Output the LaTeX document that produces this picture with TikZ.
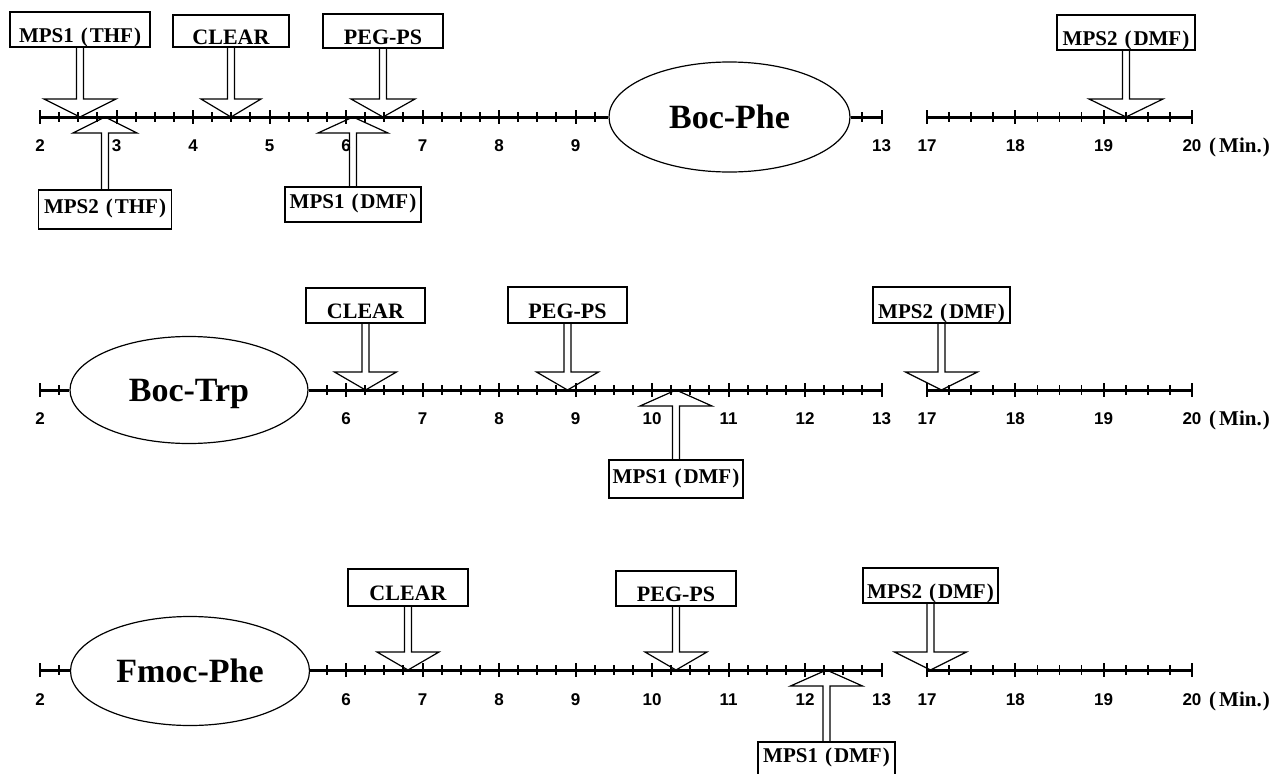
\documentclass[tikz,border=0pt]{standalone}
\usepackage{fontspec}
\setmainfont{Liberation Serif}
\newfontfamily\numfont{Liberation Sans}
\usetikzlibrary{shapes.geometric,calc}
\tikzset{
  axisln/.style={line width=3pt},
  minortick/.style={line width=1.8pt},
  majortick/.style={line width=2pt},
  lbox/.style={draw, line width=1.2pt, fill=white, inner sep=0pt, text depth=0pt,
    font=\fontsize{21}{24}\selectfont\bfseries},
  widebox/.style={lbox, font=\fontsize{22}{24}\selectfont\bfseries},
  boxhi/.style={text height=26pt},
  boxlo/.style={text height=8pt},
  ell/.style={ellipse, draw, line width=1.2pt, fill=white, inner sep=0pt,
    font=\fontsize{34}{38}\selectfont\bfseries, text height=22.5pt, text depth=0pt},
  num/.style={font=\fontsize{17}{19}\selectfont\numfont\bfseries, inner sep=0pt,
    text height=12.2pt, text depth=0pt},
  minl/.style={font=\fontsize{21}{24}\selectfont\bfseries, inner sep=0pt,
    text height=14pt, text depth=0pt, anchor=west},
  blk/.style={draw, line width=1.2pt, line join=miter},
}
\newcommand{\DnArrow}[3][31]{\draw[blk] ($(#2.south)+(-3.5,0)$) -- ($(#3)+(-3.5,-18)$) -- ($(#3)+(-#1,-18)$) -- (#3) -- ($(#3)+(#1,-18)$) -- ($(#3)+(3.5,-18)$) -- ($(#2.south)+(3.5,0)$);}
\newcommand{\UpArrow}[3][35]{\draw[blk] ($(#2.north)+(-3.5,0)$) -- ($(#3)+(-3.5,16)$) -- ($(#3)+(-#1,16)$) -- (#3) -- ($(#3)+(#1,16)$) -- ($(#3)+(3.5,16)$) -- ($(#2.north)+(3.5,0)$);}
\newcommand{\MPS}[2]{MPS#1\hspace{7pt}(\hspace{2pt}#2\hspace{1pt})}
\begin{document}
\begin{tikzpicture}[x=1pt,y=-1pt,
  declare function={xl(\t)=40+(\t-2)*76.5; xr(\t)=927+(\t-17)*88.33;}]
\useasboundingbox (0,0) rectangle (1278,774);
\clip (0,0) rectangle (1278,774);

% ================= axis 1 =================
\node[ell, minimum width=241pt, minimum height=110pt] (e1) at (729.5,117) {Boc-Phe};
\coordinate (a1s) at (40,117);
\coordinate (a1e) at (881.5,117);
\coordinate (r1s) at (927,117);
\coordinate (r1e) at (1192,117);
\draw[axisln] (a1s) -- (e1);
\draw[axisln] (e1) -- (a1e);
\draw[axisln] (r1s) -- (r1e);
\foreach \t in {2,2.25,...,9.3,12.75}{\draw[minortick] ({xl(\t)},112) -- ++(0,10);}
\foreach \t in {2,...,9,13}{\draw[majortick] ({xl(\t)},110) -- ++(0,14);
  \node[num] (l1-\t) at ({xl(\t)},145) {\t};}
\foreach \t in {17,17.25,...,20.1}{\draw[minortick] ({xr(\t)},112) -- ++(0,10);}
\foreach \t in {17,...,20}{\draw[majortick] ({xr(\t)},110) -- ++(0,14);
  \node[num] (r1-\t) at ({xr(\t)},145) {\t};}
\node[minl] (m1) at (1209,145) {(\hspace{3pt}Min.\hspace{1pt})};

\node[lbox, boxhi, minimum width=140pt, minimum height=35pt] (b11) at (80,29.5) {\MPS{1}{THF}};
\coordinate (t11) at (80,117);
\DnArrow[36]{b11}{t11}
\node[widebox, boxhi, minimum width=116pt, minimum height=32pt] (b12) at (231,31) {CLEAR};
\coordinate (t12) at (231,117);
\DnArrow[30]{b12}{t12}
\node[widebox, boxhi, minimum width=120pt, minimum height=34pt] (b13) at (383,31) {PEG-PS};
\coordinate (t13) at (383,117);
\DnArrow[32]{b13}{t13}
\node[lbox, boxhi, minimum width=138pt, minimum height=35pt] (b14) at (1126,32.5) {\MPS{2}{DMF}};
\coordinate (t14) at (1126,117);
\DnArrow[37]{b14}{t14}
\node[lbox, boxlo, minimum width=133pt, minimum height=39pt] (b15) at (105,209.5) {\MPS{2}{THF}};
\coordinate (t15) at (105,117);
\UpArrow[32]{b15}{t15}
\node[lbox, boxlo, minimum width=136pt, minimum height=35pt] (b16) at (353,204.5) {\MPS{1}{DMF}};
\coordinate (t16) at (353,117);
\UpArrow[35]{b16}{t16}

% ================= axis 2 =================
\node[ell, minimum width=238pt, minimum height=107pt] (e2) at (189,390) {Boc-Trp};
\coordinate (a2s) at (40,390);
\coordinate (a2e) at (881.5,390);
\coordinate (r2s) at (927,390);
\coordinate (r2e) at (1192,390);
\draw[axisln] (a2s) -- (e2);
\draw[axisln] (e2) -- (a2e);
\draw[axisln] (r2s) -- (r2e);
\foreach \t in {2,2.25,5.75,6,...,13.05}{\draw[minortick] ({xl(\t)},385) -- ++(0,10);}
\foreach \t in {2,6,7,...,13}{\draw[majortick] ({xl(\t)},383) -- ++(0,14);
  \node[num] (l2-\t) at ({xl(\t)},418) {\t};}
\foreach \t in {17,17.25,...,20.1}{\draw[minortick] ({xr(\t)},385) -- ++(0,10);}
\foreach \t in {17,...,20}{\draw[majortick] ({xr(\t)},383) -- ++(0,14);
  \node[num] (r2-\t) at ({xr(\t)},418) {\t};}
\node[minl] (m2) at (1209,418) {(\hspace{3pt}Min.\hspace{1pt})};

\node[widebox, boxhi, minimum width=119pt, minimum height=35pt] (b21) at (365.5,305.5) {CLEAR};
\coordinate (t21) at (365.5,390);
\DnArrow[31]{b21}{t21}
\node[widebox, boxhi, minimum width=119pt, minimum height=36pt] (b22) at (567.5,305) {PEG-PS};
\coordinate (t22) at (567.5,390);
\DnArrow[31]{b22}{t22}
\node[lbox, boxlo, minimum width=134pt, minimum height=38pt] (b23) at (676,479) {\MPS{1}{DMF}};
\coordinate (t23) at (676,390);
\UpArrow[36]{b23}{t23}
\node[lbox, boxhi, minimum width=137pt, minimum height=36pt] (b24) at (941.5,305) {\MPS{2}{DMF}};
\coordinate (t24) at (941.5,390);
\DnArrow[36]{b24}{t24}

% ================= axis 3 =================
\node[ell, minimum width=239pt, minimum height=109pt] (e3) at (190,671) {Fmoc-Phe};
\coordinate (a3s) at (40,670);
\coordinate (a3e) at (881.5,670);
\coordinate (r3s) at (927,670);
\coordinate (r3e) at (1192,670);
\draw[axisln] (a3s) -- (a3s -| e3.west);
\draw[axisln] (a3e -| e3.east) -- (a3e);
\draw[axisln] (r3s) -- (r3e);
\foreach \t in {2,2.25,5.75,6,...,13.05}{\draw[minortick] ({xl(\t)},665) -- ++(0,10);}
\foreach \t in {2,6,7,...,13}{\draw[majortick] ({xl(\t)},663) -- ++(0,14);
  \node[num] (l3-\t) at ({xl(\t)},699) {\t};}
\foreach \t in {17,17.25,...,20.1}{\draw[minortick] ({xr(\t)},665) -- ++(0,10);}
\foreach \t in {17,...,20}{\draw[majortick] ({xr(\t)},663) -- ++(0,14);
  \node[num] (r3-\t) at ({xr(\t)},699) {\t};}
\node[minl] (m3) at (1209,699) {(\hspace{3pt}Min.\hspace{1pt})};

\node[widebox, boxhi, minimum width=120pt, minimum height=37pt] (b31) at (408,587.5) {CLEAR};
\coordinate (t31) at (408,670);
\DnArrow[31]{b31}{t31}
\node[widebox, boxhi, minimum width=120pt, minimum height=35pt] (b32) at (676,588.5) {PEG-PS};
\coordinate (t32) at (676,670);
\DnArrow[31]{b32}{t32}
\node[lbox, text height=3pt, minimum width=137pt, minimum height=38pt] (b33) at (826.5,761) {\MPS{1}{DMF}};
\coordinate (t33) at (826.5,670);
\UpArrow[36]{b33}{t33}
\node[lbox, boxhi, minimum width=135pt, minimum height=35pt] (b34) at (930.5,585.5) {\MPS{2}{DMF}};
\coordinate (t34) at (930.5,670);
\DnArrow[36]{b34}{t34}
\end{tikzpicture}
\end{document}
